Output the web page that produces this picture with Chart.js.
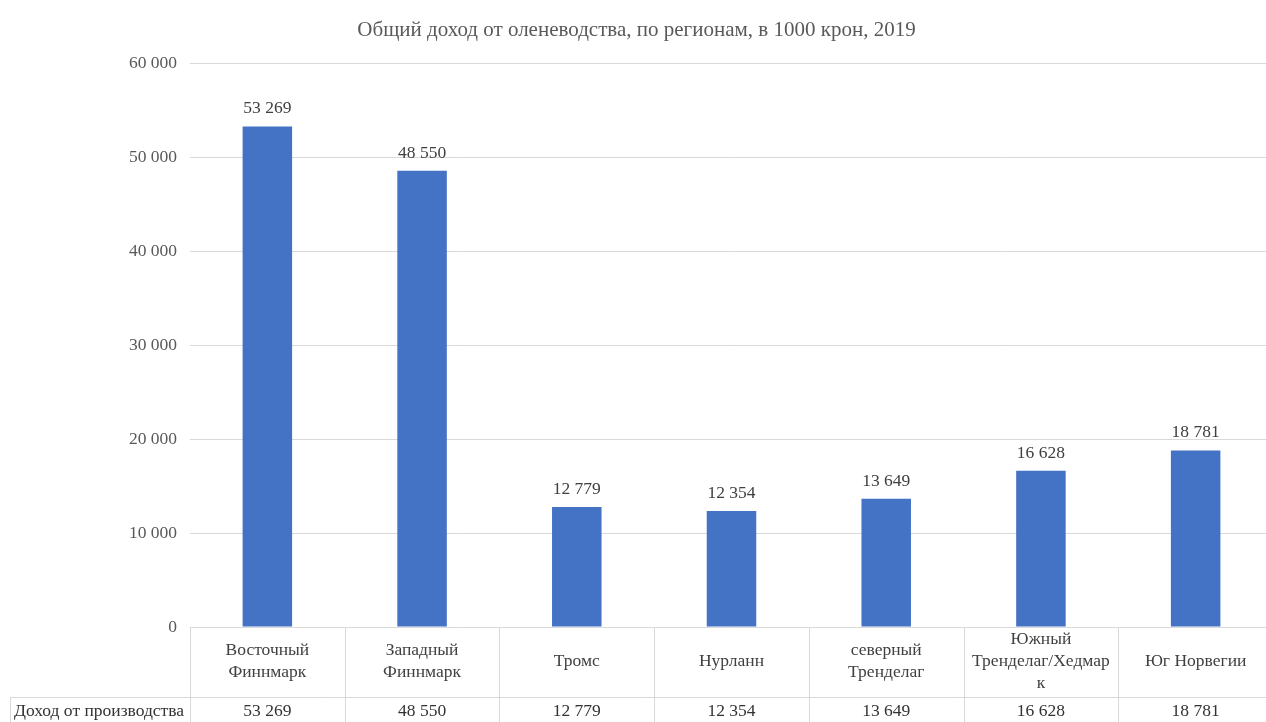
<!DOCTYPE html>
<html>
<head>
<meta charset="utf-8">
<script src="https://cdn.jsdelivr.net/npm/chart.js@4"></script>
<style>
  html, body { margin: 0; padding: 0; background: #fff; overflow: hidden; }
  #wrap { width: 1266px; height: 722px; overflow: hidden; }
</style>
</head>
<body>
<div id="wrap"><canvas id="incomeChart" width="1273" height="722"></canvas></div>
<script>
// Data
const regions = [
    ['Восточный', 'Финнмарк'],
    ['Западный', 'Финнмарк'],
    'Тромс',
    'Нурланн',
    ['северный', 'Тренделаг'],
    ['Южный', 'Тренделаг/Хедмар', 'к'],
    'Юг Норвегии'
];
const income = [53269, 48550, 12779, 12354, 13649, 16628, 18781];
const seriesName = 'Доход от производства';
const yTicks = [0, 10000, 20000, 30000, 40000, 50000, 60000];

const FONT = "'Liberation Serif', 'Times New Roman', serif";
const gridColor = '#d9d9d9';

function fmt(v) {
    return String(v).replace(/\B(?=(\d{3})+(?!\d))/g, ' ');
}

// value labels above bars
const barLabels = {
    id: 'barLabels',
    afterDatasetsDraw(chart) {
        const ctx = chart.ctx;
        const meta = chart.getDatasetMeta(0);
        ctx.save();
        ctx.font = '17.5px ' + FONT;
        ctx.fillStyle = '#404040';
        ctx.textAlign = 'center';
        ctx.textBaseline = 'bottom';
        meta.data.forEach(function (bar, i) {
            ctx.fillText(fmt(income[i]), bar.x, bar.y - 9);
        });
        ctx.restore();
    }
};

// data table under the axis
const dataTable = {
    id: 'dataTable',
    afterDraw(chart) {
        const ctx = chart.ctx;
        const x = chart.scales.x;
        const area = chart.chartArea;
        const h = chart.height;
        const rowTop = area.bottom + 70;
        const step = x.getPixelForValue(1) - x.getPixelForValue(0);
        ctx.save();
        ctx.strokeStyle = gridColor;
        ctx.lineWidth = 1;
        ctx.beginPath();
        for (let i = 0; i <= income.length; i++) {
            const px = Math.round(x.getPixelForValue(i) - step / 2) + 0.5;
            ctx.moveTo(px, area.bottom);
            ctx.lineTo(px, h);
        }
        ctx.moveTo(10.5, rowTop);
        ctx.lineTo(10.5, h);
        ctx.moveTo(10, rowTop + 0.5);
        ctx.lineTo(chart.width, rowTop + 0.5);
        ctx.stroke();

        ctx.font = '17.5px ' + FONT;
        ctx.fillStyle = '#333333';
        ctx.textBaseline = 'middle';
        ctx.textAlign = 'left';
        ctx.fillText(seriesName, 14, rowTop + 14);
        ctx.textAlign = 'center';
        income.forEach(function (v, i) {
            ctx.fillText(fmt(v), x.getPixelForValue(i), rowTop + 14);
        });
        ctx.restore();
    }
};

const ctxIncome = document.getElementById('incomeChart').getContext('2d');

const incomeChart = new Chart(ctxIncome, {
    type: 'bar',
    data: {
        labels: regions,
        datasets: [{
            label: seriesName,
            data: income,
            backgroundColor: '#4472C4',
            barPercentage: 0.32,
            categoryPercentage: 1
        }]
    },
    options: {
        responsive: false,
        animation: false,
        layout: { padding: { left: 0, right: 0, top: 0, bottom: 25 } },
        plugins: {
            legend: { display: false },
            tooltip: { enabled: false },
            title: {
                display: true,
                text: 'Общий доход от оленеводства, по регионам, в 1000 крон, 2019',
                color: '#595959',
                font: { family: FONT, size: 21, weight: 'normal' },
                padding: { top: 18, bottom: 20 }
            }
        },
        scales: {
            x: {
                grid: { display: false },
                border: { display: false },
                ticks: {
                    color: '#404040',
                    font: { family: FONT, size: 17.5, lineHeight: 1.28 },
                    padding: 4,
                    maxRotation: 0,
                    autoSkip: false,
                    crossAlign: 'center'
                },
                afterFit(scale) { scale.height = 70; }
            },
            y: {
                min: 0,
                max: 60000,
                afterBuildTicks(scale) {
                    scale.ticks = yTicks.map(function (v) { return { value: v }; });
                },
                grid: { color: gridColor, drawTicks: false },
                border: { display: false },
                ticks: {
                    color: '#595959',
                    font: { family: FONT, size: 17.5 },
                    padding: 13,
                    callback: function (v) { return fmt(v); }
                },
                afterFit(scale) { scale.width = 190; }
            }
        }
    },
    plugins: [barLabels, dataTable]
});
</script>
</body>
</html>
